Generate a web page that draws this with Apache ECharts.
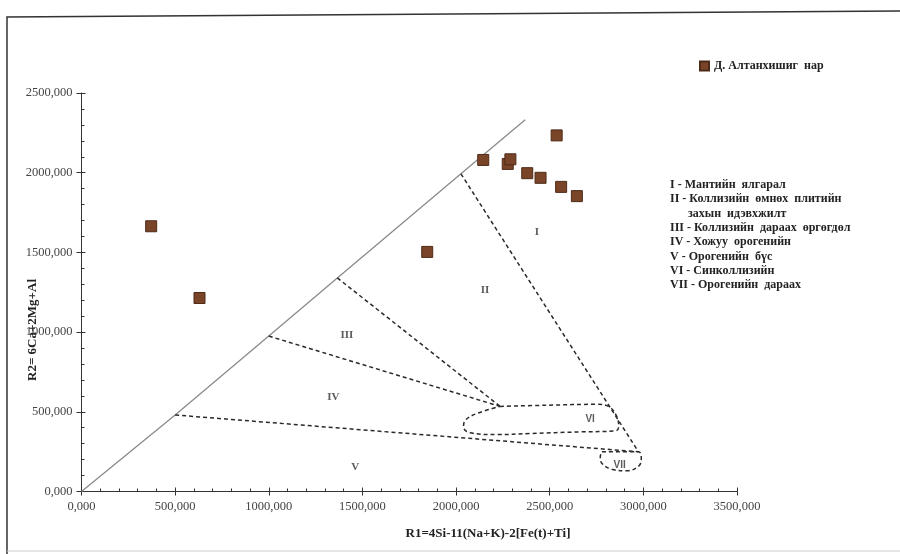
<!DOCTYPE html>
<html><head><meta charset="utf-8">
<script src="https://cdn.jsdelivr.net/npm/echarts@6/dist/echarts.min.js"></script>
<style>html,body{margin:0;padding:0;background:#fff}#c{width:900px;height:554px}</style>
</head><body><div id="c"></div>
<script>
// ---- data ----
const seriesName = 'Д. Алтанхишиг  нар';
const sampleR1 = [372, 630, 1846, 2145, 2276, 2290, 2380, 2451, 2537, 2561, 2645];
const sampleR2 = [1664, 1214, 1503, 2080, 2055, 2084, 1997, 1968, 2234, 1911, 1853];

const xTickLabels = ['0,000','500,000','1000,000','1500,000','2000,000','2500,000','3000,000','3500,000'];
const yTickLabels = ['0,000','500,000','1000,000','1500,000','2000,000','2500,000'];

const diagonalX = [0, 500, 1000, 1366, 2026, 2369];
const diagonalY = [0, 480, 975, 1340, 1993, 2332];

const boundIVVx = [500, 2974];   const boundIVVy = [480, 249];
const boundIIIIVx = [1000, 2235]; const boundIIIIVy = [975, 534];
const boundIIIIIx = [1366, 2235]; const boundIIIIIy = [1340, 534];
const boundIIIx = [2026, 2974];  const boundIIIy = [1993, 249];

const loopVIx = [2235, 2485, 2752, 2814, 2859, 2868, 2850, 2663, 2396, 2218, 2075, 2040, 2049, 2111, 2235];
const loopVIy = [534, 541, 547, 534, 468, 405, 380, 374, 364, 357, 368, 405, 447, 489, 534];
const loopVIIx = [2779, 2974, 2989, 2975, 2912, 2832, 2779, 2770, 2779];
const loopVIIy = [249, 249, 207, 159, 130, 139, 176, 218, 249];

const fieldNames = ['I', 'II', 'III', 'IV', 'V', 'VI', 'VII'];
const fieldX = [2431, 2155, 1417, 1345, 1461, 2716, 2873];
const fieldY = [1624, 1266, 982, 589, 155, 451, 166];

const notes = ['I - Мантийн  ялгарал', 'II - Коллизийн  өмнөх  плитийн', '      захын  идэвхжилт',
  'III - Коллизийн  дараах  өргөгдөл', 'IV - Хожуу  орогенийн', 'V - Орогенийн  бүс',
  'VI - Синколлизийн', 'VII - Орогенийн  дараах'];

const xTitle = 'R1=4Si-11(Na+K)-2[Fe(t)+Ti]';
const yTitle = 'R2= 6Ca+2Mg+Al';

// ---- build ----
const zip = (xs, ys) => xs.map((x, i) => [x, ys[i]]);
const serif = '"Liberation Serif", "DejaVu Serif", serif';
const dashStyle = { color: '#2a2a2a', width: 1.5, type: [4, 3] };

function lineSeries(xs, ys, style, smooth) {
  return { type: 'line', data: zip(xs, ys), symbol: 'none', lineStyle: style, smooth: smooth || false,
    silent: true, z: 2, animation: false, xAxisIndex: 0, yAxisIndex: 0 };
}

const axisCommon = { min: 0, interval: 500, splitLine: { show: false } };
const chart = echarts.init(document.getElementById('c'));
chart.setOption({
  animation: false,
  backgroundColor: '#fff',
  grid: { left: 81.5, right: 163, top: 93, bottom: 62.5 },
  legend: {
    data: [seriesName], left: 694, top: 55, icon: 'rect', itemWidth: 9, itemHeight: 9, itemGap: 4,
    textStyle: { fontFamily: serif, fontWeight: 'bold', fontSize: 12, color: '#222' }
  },
  xAxis: [
    Object.assign({ type: 'value', max: 3500,
      axisLine: { show: true, lineStyle: { color: '#333', width: 1 } },
      axisTick: { show: true, length: 4, lineStyle: { color: '#333' } },
      axisLabel: { margin: 9, fontFamily: serif, fontSize: 12.5, color: '#444',
        formatter: v => xTickLabels[Math.round(v / 500)] } }, axisCommon),
    Object.assign({ type: 'value', max: 3500, position: 'bottom',
      axisLine: { show: false }, axisLabel: { show: false },
      axisTick: { show: true, inside: true, length: 4, lineStyle: { color: '#333' } },
      minorTick: { show: true, splitNumber: 5, length: 3, lineStyle: { color: '#333' } } }, axisCommon)
  ],
  yAxis: [
    Object.assign({ type: 'value', max: 2500,
      axisLine: { show: true, lineStyle: { color: '#333', width: 1 } },
      axisTick: { show: true, length: 5, lineStyle: { color: '#333' } },
      axisLabel: { margin: 9, fontFamily: serif, fontSize: 12.5, color: '#444',
        formatter: v => yTickLabels[Math.round(v / 500)] } }, axisCommon),
    Object.assign({ type: 'value', max: 2500, position: 'left',
      axisLine: { show: false }, axisLabel: { show: false },
      axisTick: { show: true, inside: true, length: 4, lineStyle: { color: '#333' } },
      minorTick: { show: true, splitNumber: 5, length: 3, lineStyle: { color: '#333' } } }, axisCommon)
  ],
  series: [
    lineSeries(diagonalX, diagonalY, { color: '#8a8a8a', width: 1.3 }),
    lineSeries(boundIVVx, boundIVVy, dashStyle),
    lineSeries(boundIIIIVx, boundIIIIVy, dashStyle),
    lineSeries(boundIIIIIx, boundIIIIIy, dashStyle),
    lineSeries(boundIIIx, boundIIIy, dashStyle),
    lineSeries(loopVIx, loopVIy, dashStyle, 0.4),
    lineSeries(loopVIIx, loopVIIy, dashStyle, 0.4),
    {
      type: 'scatter', silent: true, symbolSize: 0, z: 3,
      data: fieldNames.map((n, i) => ({ value: [fieldX[i], fieldY[i]], name: n,
        label: i >= 5 ? { fontFamily: '"Liberation Sans", Arial, sans-serif', fontWeight: 'bold', fontSize: 10, color: '#333' } : {} })),
      label: { show: true, position: 'inside', formatter: p => p.name,
        fontFamily: serif, fontWeight: 'bold', fontSize: 11, color: '#333' }
    },
    {
      name: seriesName, type: 'scatter', symbol: 'rect', symbolSize: 11, z: 4,
      itemStyle: { color: '#7a4428', borderColor: '#4d2b17', borderWidth: 1, opacity: 1 },
      data: zip(sampleR1, sampleR2)
    }
  ],
  graphic: [
    { type: 'polyline', shape: { points: [[900, 11], [7, 17], [7, 554]] }, style: { stroke: '#333', lineWidth: 1.5, fill: null }, silent: true },
    { type: 'line', shape: { x1: 7, y1: 551, x2: 900, y2: 551 }, style: { stroke: '#ccc', lineWidth: 1 }, silent: true },
    { type: 'text', x: 488, y: 534, style: { text: xTitle, fontFamily: serif, fontWeight: 'bold', fontSize: 13, fill: '#222', textAlign: 'center', textVerticalAlign: 'middle' } },
    { type: 'text', x: 33, y: 330, rotation: Math.PI / 2, style: { text: yTitle, fontFamily: serif, fontWeight: 'bold', fontSize: 13, fill: '#222', textAlign: 'center', textVerticalAlign: 'middle' } }
  ].concat(notes.map((t, i) => ({
    type: 'text', left: 670, top: 179 + i * 14.3,
    style: { text: t, fontFamily: serif, fontWeight: 'bold', fontSize: 12, fill: '#222' }
  })))
});
</script></body></html>
